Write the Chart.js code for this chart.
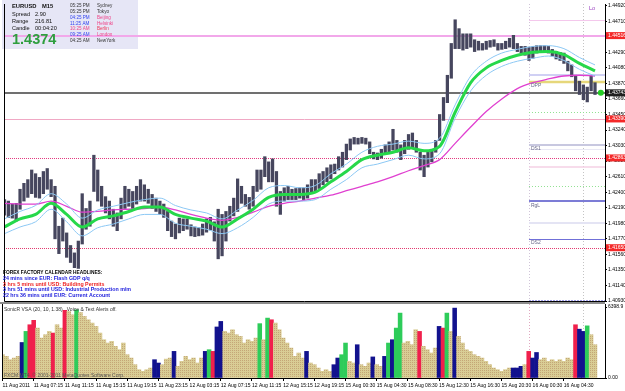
<!DOCTYPE html>
<html>
<head>
<meta charset="utf-8">
<script src="https://cdn.jsdelivr.net/npm/chart.js@4.4.0/dist/chart.umd.min.js"></script>
<style>
  html, body { margin: 0; padding: 0; background: #fff; }
  #wrap { position: relative; width: 625px; height: 391px; overflow: hidden; }
  #main { position: absolute; left: 0; top: 0; }
  #vol { position: absolute; left: 0; top: 302px; }
</style>
</head>
<body>
<div id="wrap">
  <canvas id="main" width="625" height="306"></canvas>
  <canvas id="vol" width="625" height="89"></canvas>
</div>
<script>
// EURUSD, bars of 30 min (high / low)
const highs = [
  1.4230,1.4228,1.4224,1.4225,1.4244,1.4252,1.4257,1.4270,1.4265,1.4260,
  1.4268,1.4272,1.4257,1.4248,1.4194,1.4205,1.4185,1.4168,1.4158,1.4174,
  1.4238,1.4218,1.4228,1.4290,1.4270,1.4248,1.4234,1.4228,1.4217,1.4212,
  1.4232,1.4248,1.4244,1.4241,1.4248,1.4257,1.4250,1.4244,1.4237,1.4232,
  1.4228,1.4224,1.4214,1.4201,1.4197,1.4205,1.4204,1.4204,1.4196,1.4193,
  1.4192,1.4197,1.4204,1.4206,1.4200,1.4217,1.4210,1.4214,1.4221,1.4232,
  1.4258,1.4248,1.4237,1.4233,1.4248,1.4270,1.4270,1.4288,1.4281,1.4285,
  1.4268,1.4241,1.4246,1.4248,1.4244,1.4245,1.4246,1.4246,1.4250,1.4257,
  1.4257,1.4265,1.4268,1.4273,1.4277,1.4278,1.4288,1.4294,1.4305,1.4312,
  1.4314,1.4313,1.4314,1.4313,1.4308,1.4294,1.4293,1.4298,1.4304,1.4308,
  1.4325,1.4310,1.4304,1.4310,1.4318,1.4320,1.4310,1.4294,1.4290,1.4294,
  1.4298,1.4310,1.4345,1.4368,1.4398,1.4441,1.4473,1.4461,1.4454,1.4454,
  1.4454,1.4446,1.4444,1.4441,1.4444,1.4445,1.4446,1.4441,1.4441,1.4444,
  1.4448,1.4452,1.4441,1.4437,1.4437,1.4436,1.4437,1.4438,1.4438,1.4438,
  1.4437,1.4433,1.4430,1.4429,1.4428,1.4417,1.4412,1.4398,1.4390,1.4385,
  1.4382,1.4397,1.4388
];
const lows = [
  1.4209,1.4206,1.4205,1.4201,1.4217,1.4228,1.4233,1.4238,1.4233,1.4232,
  1.4238,1.4244,1.4234,1.4177,1.4157,1.4174,1.4152,1.4145,1.4138,1.4137,
  1.4170,1.4190,1.4194,1.4241,1.4228,1.4221,1.4212,1.4204,1.4194,1.4188,
  1.4204,1.4218,1.4221,1.4218,1.4224,1.4228,1.4228,1.4225,1.4218,1.4214,
  1.4210,1.4206,1.4188,1.4180,1.4177,1.4185,1.4188,1.4190,1.4181,1.4180,
  1.4181,1.4182,1.4186,1.4189,1.4174,1.4150,1.4154,1.4174,1.4201,1.4208,
  1.4214,1.4225,1.4221,1.4217,1.4221,1.4241,1.4244,1.4261,1.4254,1.4254,
  1.4221,1.4210,1.4228,1.4230,1.4230,1.4230,1.4232,1.4230,1.4232,1.4238,
  1.4241,1.4245,1.4250,1.4254,1.4258,1.4265,1.4270,1.4274,1.4284,1.4297,
  1.4305,1.4305,1.4306,1.4305,1.4292,1.4285,1.4284,1.4286,1.4292,1.4294,
  1.4297,1.4294,1.4284,1.4292,1.4298,1.4300,1.4294,1.4270,1.4261,1.4274,
  1.4281,1.4294,1.4310,1.4337,1.4361,1.4394,1.4434,1.4434,1.4432,1.4434,
  1.4436,1.4430,1.4432,1.4432,1.4433,1.4436,1.4437,1.4432,1.4433,1.4434,
  1.4436,1.4434,1.4430,1.4428,1.4425,1.4418,1.4421,1.4428,1.4430,1.4430,
  1.4428,1.4424,1.4420,1.4418,1.4414,1.4404,1.4396,1.4377,1.4372,1.4365,
  1.4362,1.4377,1.4372
];

// moving averages, sampled every 4 bars
const maBars = [0,4,8,12,16,20,24,28,32,36,40,44,48,52,56,60,64,68,72,76,
  80,84,88,92,96,100,104,108,112,116,120,124,128,132,136,140,144,148,152];
const dragonMid = [1.4193,1.4204,1.4210,1.4225,1.4210,1.4193,1.4204,1.4208,1.4214,1.4220,
  1.4220,1.4210,1.4205,1.4201,1.4193,1.4204,1.4217,1.4233,1.4237,1.4237,
  1.4240,1.4254,1.4268,1.4284,1.4290,1.4294,1.4300,1.4296,1.4302,1.4348,
  1.4388,1.4408,1.4418,1.4425,1.4429,1.4430,1.4426,1.4414,1.4404];
const dragonHigh = [1.4204,1.4214,1.4222,1.4238,1.4224,1.4205,1.4216,1.4221,1.4226,1.4230,
  1.4232,1.4222,1.4216,1.4212,1.4204,1.4216,1.4229,1.4246,1.4249,1.4246,
  1.4249,1.4265,1.4278,1.4294,1.4302,1.4305,1.4309,1.4306,1.4313,1.4358,
  1.4397,1.4417,1.4428,1.4433,1.4437,1.4438,1.4434,1.4422,1.4412];
const dragonLow = [1.4184,1.4193,1.4200,1.4217,1.4200,1.4181,1.4192,1.4197,1.4204,1.4210,
  1.4210,1.4198,1.4194,1.4190,1.4184,1.4192,1.4206,1.4224,1.4228,1.4228,
  1.4230,1.4244,1.4257,1.4273,1.4278,1.4284,1.4290,1.4285,1.4292,1.4340,
  1.4377,1.4398,1.4410,1.4417,1.4421,1.4424,1.4418,1.4406,1.4397];
const slowMa = [1.4225,1.4224,1.4224,1.4228,1.4221,1.4213,1.4214,1.4216,1.4217,1.4218,
  1.4220,1.4216,1.4210,1.4205,1.4202,1.4206,1.4213,1.4221,1.4225,1.4228,
  1.4232,1.4236,1.4242,1.4248,1.4254,1.4261,1.4269,1.4276,1.4284,1.4306,
  1.4328,1.4349,1.4366,1.4380,1.4388,1.4393,1.4397,1.4398,1.4397];

// volume (SonicR VSA) and bar class: t plain, b blue, g green, r red
const vols = [
  2100,1950,1650,1800,1950,3200,4200,4800,5200,4500,
  3600,3900,4200,4050,4800,4500,6100,6000,5700,6150,
  5900,5550,5250,4950,4650,4050,3450,3150,3300,2850,
  2550,3150,2100,1800,1200,750,600,750,900,1650,
  1350,1200,1700,1800,2400,1050,1500,1950,1650,1800,
  1350,1800,2400,2550,2400,4600,5100,4200,4050,4350,
  3900,3750,3150,3450,3300,3600,4900,3450,5400,5250,
  4950,4350,3600,3150,2700,1950,2250,1800,2400,1350,
  1200,900,600,750,600,1200,1800,2100,3150,1500,
  1350,3000,1200,1050,1350,1900,1200,1050,1950,3150,
  3450,4500,5850,3150,3300,3000,4350,4200,2850,2550,
  2250,2700,4650,4500,5850,4200,6300,3750,3150,2550,
  2400,2100,1950,1800,1500,1200,900,750,600,750,
  900,900,900,1050,1200,2400,1800,2300,1650,1800,
  1500,1650,1500,1650,1500,1800,1650,4800,4400,4200,
  4700,3900,3000
];
const volType = ('tttttbgrrt' + 'tttrttrttg' + 'tttttttttt' + 'tttttttttb' + 'btttbttttt' +
  'ttbgrbbttt' + 'ttttttgtgr' + 'ttttttttbt' + 'tttttbbggt' + 'tbtttbttbg' +
  'bggttttrtt' + 'ttbrgtbttt' + 'tttttttttt' + 'tbbbtrbbtt' + 'tttttttrbb' + 'gtt').split('');

const bid = 1.43743;
const priceTicks = [1.44920,1.44710,1.44500,1.44290,1.44080,1.43870,1.43660,1.43450,1.43240,
  1.43030,1.42820,1.42610,1.42400,1.42190,1.41980,1.41770,1.41560,1.41350,1.41140,1.40930];
const fullLevels = [1.44516, bid, 1.43390, 1.42863, 1.41650];
const pivotLevels = [1.44730,1.43983,1.43890,1.43490,1.43037,1.42983,1.42743,1.42490,1.42277,1.41983,1.41770,1.40930];
const pivotNames = ['', '', 'DPP', '', 'DS1', '', '', '', 'RgL', '', 'DS2', ''];
const pivotFromBar = 135;
const dayMarkBars = [135, 149];

const timeTickBars = [0,8,16,24,32,40,48,56,64,72,80,88,96,104,112,120,128,136,144];
const timeLabels = ['11 Aug 2011','11 Aug 07:15','11 Aug 11:15','11 Aug 15:15','11 Aug 19:15','11 Aug 23:15',
  '12 Aug 03:15','12 Aug 07:15','12 Aug 11:15','12 Aug 15:15','12 Aug 19:15','15 Aug 00:30','15 Aug 04:30',
  '15 Aug 08:30','15 Aug 12:30','15 Aug 16:30','15 Aug 20:30','16 Aug 00:30','16 Aug 04:30'];
const volTickValues = [0, 6398.9];
const volTickLabels = ['0.00', '6398.9'];

const infoLines = [['Spread', '2.90'], ['Range', '216.81'], ['Candle', '00:04:20']];
const cityTimes = ['05:25 PM','05:25 PM','04:25 PM','11:25 AM','10:25 AM','09:25 AM','04:25 AM'];
const cityNames = ['Sydney','Tokyo','Beijing','Helsinki','Berlin','London','NewYork'];
const headlines = ['FOREX FACTORY CALENDAR HEADLINES:', '24 mins since EUR: Flash GDP q/q',
  '3 hrs 5 mins until USD: Building Permits', '3 hrs 51 mins until USD: Industrial Production m/m',
  '22 hrs 36 mins until EUR: Current Account'];

// ---- styling / layout ----
const FONT = "'Liberation Sans', Arial, sans-serif";
const X_MIN = -0.13, X_MAX = 154.57;
const VOL_MAX = 6670;
const fullLevelStyles = [
  { color: '#f2a8ea', width: 2 },
  { color: '#404040', width: 1.5 },
  { color: '#f0a8c4', width: 1 },
  { color: '#e23a80', width: 1, dash: [1, 1] },
  { color: '#e23a70', width: 1, dash: [1, 1] }
];
const fullBoxColors = ['#f42828', '#202020', '#f42828', '#f42828', '#f42828'];
const pivotStyles = [
  { color: '#f4c8ec', width: 1 }, { color: '#d0d0f4', width: 2 }, { color: '#e6d77a', width: 2.5 },
  { color: '#90e090', width: 1, dash: [1, 2] }, { color: '#c8c8e0', width: 2 }, { color: '#e8e8f4', width: 1 },
  { color: '#f4d0e4', width: 1.5 }, { color: '#90e090', width: 1, dash: [1, 2] }, { color: '#5050c8', width: 1.5 },
  { color: '#e4e4f4', width: 2 }, { color: '#7070d8', width: 1 }, { color: '#8080e0', width: 1.5, dash: [2, 1] }
];
const timeColors = ['#333','#333','#3344ee','#3344ee','#ee4488','#3344ee','#333'];
const cityColors = ['#333','#333','#ee4488','#ee4488','#ee3355','#ee4488','#333'];
const headColors = ['#000', '#2222dd', '#ee2222', '#2222dd', '#2222dd'];

Chart.defaults.font.family = FONT;
Chart.defaults.font.size = 5;
Chart.defaults.color = '#000';

const toPts = arr => arr.map((v, k) => ({ x: maBars[k], y: v }));
const candles = highs.map((h, i) => ({ x: i, y: [lows[i], h] }));

function hLine(ctx, x0, x1, yy, st) {
  ctx.beginPath();
  ctx.setLineDash(st.dash || []);
  ctx.strokeStyle = st.color;
  ctx.lineWidth = st.width;
  const py = st.width % 2 === 1 ? Math.round(yy) + 0.5 : Math.round(yy);
  ctx.moveTo(x0, py);
  ctx.lineTo(x1, py);
  ctx.stroke();
}
function vLine(ctx, xx, y0, y1, color) {
  ctx.beginPath();
  ctx.setLineDash([1, 2]);
  ctx.strokeStyle = color;
  ctx.lineWidth = 1;
  ctx.moveTo(Math.round(xx) + 0.5, y0);
  ctx.lineTo(Math.round(xx) + 0.5, y1);
  ctx.stroke();
}

const mainDecor = {
  id: 'mainDecor',
  beforeDatasetsDraw(chart) {
    const { ctx, chartArea: a, scales: { x, y } } = chart;
    ctx.save();
    // info panel
    ctx.fillStyle = '#e6e6f6';
    ctx.fillRect(2, 0, 136, 49);
    dayMarkBars.forEach((b, k) => vLine(ctx, x.getPixelForValue(b), a.top, a.bottom, k ? '#c4c4c4' : '#d0c4d8'));
    const px0 = x.getPixelForValue(pivotFromBar);
    pivotLevels.forEach((p, k) => hLine(ctx, px0, a.right, y.getPixelForValue(p), pivotStyles[k]));
    fullLevels.forEach((p, k) => hLine(ctx, a.left, a.right, y.getPixelForValue(p), fullLevelStyles[k]));
    ctx.setLineDash([]);

    ctx.textBaseline = 'middle';
    ctx.textAlign = 'left';
    ctx.fillStyle = '#111';
    ctx.font = 'bold 5.8px ' + FONT;
    ctx.fillText('EURUSD', 12, 6);
    ctx.fillText('M15', 42, 6);
    ctx.font = '5.6px ' + FONT;
    infoLines.forEach((r, k) => {
      ctx.fillText(r[0], 12, 14 + k * 7);
      ctx.fillText(r[1], 35, 14 + k * 7);
    });
    ctx.font = 'bold 14.5px ' + FONT;
    ctx.fillStyle = '#2e9e3e';
    ctx.fillText('1.4374', 12, 40);
    ctx.font = '4.6px ' + FONT;
    cityTimes.forEach((t, k) => {
      const yy = 6 + k * 5.8;
      ctx.fillStyle = timeColors[k];
      ctx.fillText(t, 70, yy);
      ctx.fillStyle = cityColors[k];
      ctx.fillText(cityNames[k], 97, yy);
    });
    ctx.restore();
  },
  afterDraw(chart) {
    const { ctx, chartArea: a, scales: { x, y } } = chart;
    ctx.save();
    // frame
    ctx.strokeStyle = '#000';
    ctx.lineWidth = 1;
    ctx.beginPath();
    ctx.moveTo(a.left + 0.5, a.top);
    ctx.lineTo(a.left + 0.5, a.bottom + 0.5);
    ctx.lineTo(a.right, a.bottom + 0.5);
    ctx.stroke();

    ctx.textBaseline = 'middle';
    ctx.textAlign = 'left';
    headlines.forEach((h, k) => {
      ctx.font = (k ? 'bold 5.3px ' : 'bold 4.8px ') + FONT;
      ctx.fillStyle = headColors[k];
      ctx.fillText(h, 3, 272.5 + k * 5.8);
    });

    ctx.font = '5px ' + FONT;
    ctx.fillStyle = '#666688';
    const px0 = x.getPixelForValue(pivotFromBar);
    pivotLevels.forEach((p, k) => {
      if (pivotNames[k]) ctx.fillText(pivotNames[k], px0 + 2, y.getPixelForValue(p) + 4);
    });
    ctx.font = '5.5px ' + FONT;
    ctx.fillStyle = '#9a40c0';
    ctx.fillText('Lo', 589, 8);

    // price boxes on the axis
    ctx.font = '5px ' + FONT;
    fullLevels.forEach((p, k) => {
      const yy = y.getPixelForValue(p);
      ctx.fillStyle = fullBoxColors[k];
      ctx.fillRect(a.right + 1, yy - 3.5, 20, 7);
      ctx.fillStyle = '#fff';
      ctx.fillText(p.toFixed(5), a.right + 3, yy);
    });
    ctx.restore();
  }
};

new Chart(document.getElementById('main'), {
  type: 'bar',
  data: {
    datasets: [
      { type: 'line', data: toPts(dragonHigh), borderColor: '#8cc8f4', borderWidth: 1, pointRadius: 0, cubicInterpolationMode: 'monotone', order: 2 },
      { type: 'line', data: toPts(dragonLow), borderColor: '#8cc8f4', borderWidth: 1, pointRadius: 0, cubicInterpolationMode: 'monotone', order: 2 },
      { type: 'line', data: toPts(slowMa), borderColor: '#e040d0', borderWidth: 1.3, pointRadius: 0, cubicInterpolationMode: 'monotone', order: 2 },
      { type: 'line', data: toPts(dragonMid), borderColor: '#26d84a', borderWidth: 3, pointRadius: 0, cubicInterpolationMode: 'monotone', order: 1 },
      { type: 'bar', data: candles, backgroundColor: '#46465e', barThickness: 2.6, grouped: false, order: 5 },
      { type: 'line', data: [{ x: 153.5, y: bid }], showLine: false, pointRadius: 3, pointBackgroundColor: '#22cc22', pointBorderWidth: 0, order: 0 }
    ]
  },
  options: {
    responsive: false,
    animation: false,
    layout: { padding: { left: 2, top: 0, right: 0, bottom: 5 } },
    plugins: { legend: { display: false }, tooltip: { enabled: false } },
    scales: {
      x: { type: 'linear', min: X_MIN, max: X_MAX, offset: false, display: false },
      y: {
        position: 'right', min: 1.40930, max: 1.44943,
        afterBuildTicks: s => { s.ticks = priceTicks.map(v => ({ value: v })); },
        afterFit: s => { s.width = 20; s.paddingTop = 0; s.paddingBottom = 0; },
        ticks: { callback: v => v.toFixed(5), padding: 1, font: { size: 5 }, color: '#000' },
        grid: { drawOnChartArea: false, tickLength: 2, color: '#000' },
        border: { color: '#000' }
      }
    }
  },
  plugins: [mainDecor]
});

// ---- volume panel ----
const volCanvas = document.getElementById('vol');
const pc = document.createElement('canvas');
pc.width = 2; pc.height = 2;
const pctx = pc.getContext('2d');
pctx.fillStyle = '#d9cd95'; pctx.fillRect(0, 0, 2, 2);
pctx.fillStyle = '#c4a676'; pctx.fillRect(0, 0, 1, 1);
const tanPattern = volCanvas.getContext('2d').createPattern(pc, 'repeat');
const volColor = { t: tanPattern, b: '#12128e', g: '#2ecc5a', r: '#f0204c' };

const volDecor = {
  id: 'volDecor',
  beforeDatasetsDraw(chart) {
    const { ctx, chartArea: a, scales: { x } } = chart;
    ctx.save();
    dayMarkBars.forEach((b, k) => vLine(ctx, x.getPixelForValue(b), a.top, a.bottom, k ? '#c4c4c4' : '#e0a8c0'));
    ctx.restore();
  },
  afterDraw(chart) {
    const { ctx, chartArea: a } = chart;
    ctx.save();
    ctx.fillStyle = '#8c8c8c';
    ctx.fillRect(0, 0, a.right, 2);
    ctx.strokeStyle = '#000';
    ctx.lineWidth = 1;
    ctx.beginPath();
    ctx.moveTo(a.left + 0.5, a.top);
    ctx.lineTo(a.left + 0.5, a.bottom);
    ctx.stroke();
    ctx.textBaseline = 'middle';
    ctx.textAlign = 'left';
    ctx.font = '5px ' + FONT;
    ctx.fillStyle = '#333';
    ctx.fillText('SonicR VSA (20, 10, 1.38)   Voice & Text Alerts off.', 4, 8);
    ctx.fillStyle = '#555';
    ctx.fillText('FXCM MT4, \u00a9 2001-2011 MetaQuotes Software Corp.', 4, 74);
    ctx.restore();
  }
};

new Chart(volCanvas, {
  type: 'bar',
  data: {
    datasets: [{
      data: vols.map((v, i) => ({ x: i, y: v })),
      backgroundColor: volType.map(t => volColor[t]),
      barPercentage: 1, categoryPercentage: 1, borderWidth: 0
    }]
  },
  options: {
    responsive: false,
    animation: false,
    layout: { padding: { left: 2, top: 2, right: 0, bottom: 0 } },
    plugins: { legend: { display: false }, tooltip: { enabled: false } },
    scales: {
      x: {
        type: 'linear', min: X_MIN, max: X_MAX, offset: false,
        afterBuildTicks: s => { s.ticks = timeTickBars.map(v => ({ value: v })); },
        afterFit: s => { s.height = 13; s.paddingLeft = 0; s.paddingRight = 0; },
        ticks: { autoSkip: false, maxRotation: 0, align: 'start', padding: 2,
          callback: (v, i) => timeLabels[i], font: { size: 5 }, color: '#000' },
        grid: { drawOnChartArea: false, offset: false, tickLength: 3, color: '#000' },
        border: { color: '#000' }
      },
      y: {
        position: 'right', min: 0, max: VOL_MAX,
        afterBuildTicks: s => { s.ticks = volTickValues.map(v => ({ value: v })); },
        afterFit: s => { s.width = 20; s.paddingTop = 0; s.paddingBottom = 0; },
        ticks: { callback: (v, i) => volTickLabels[i], padding: 1, font: { size: 5 }, color: '#000' },
        grid: { drawOnChartArea: false, tickLength: 2, color: '#000' },
        border: { color: '#000' }
      }
    }
  },
  plugins: [volDecor]
});
</script>
</body>
</html>
